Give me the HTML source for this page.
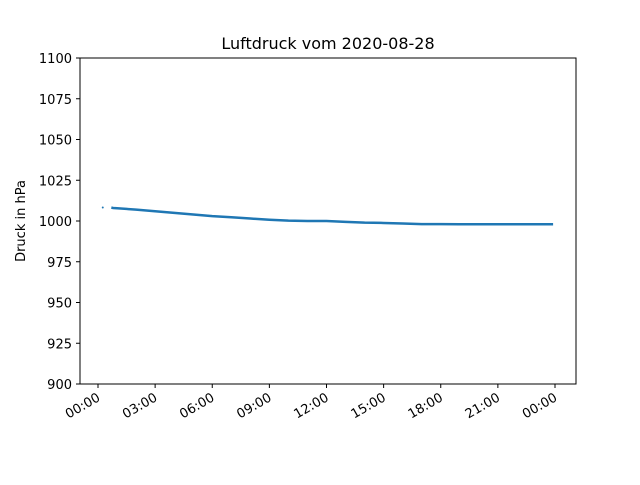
<!DOCTYPE html>
<html><head><meta charset="utf-8"><style>
body{margin:0;background:#fff;font-family:"Liberation Sans","DejaVu Sans",sans-serif}
svg text{font-family:"DejaVu Sans","Liberation Sans",sans-serif;font-size:13px;fill:#000}
</style></head><body>
<svg id="chart" width="640" height="480">
<rect width="640" height="480" fill="#fff"/>
<text x="328" y="49" text-anchor="middle" style="font-size:16px">Luftdruck vom 2020-08-28</text>
<g id="plot"></g>
<rect x="80" y="58" width="496" height="326" fill="none" stroke="#000" stroke-width="1"/>
<text transform="translate(25,221) rotate(-90)" text-anchor="middle">Druck in hPa</text>
</svg>
<script>
const hours=[0.25,0.7,0.8,1,2,3,4,5,6,7,8,9,10,11,12,13,14,15,16,17,18,19,20,21,22,23,23.9];
const pressure=[1008.3,1008.2,1008,1007.8,1007,1006,1005,1004,1003,1002.3,1001.5,1000.8,1000.2,1000,1000,999.5,999,998.8,998.5,998.1,998.1,998,998,998,998,998,998];
const yTicks=[900,925,950,975,1000,1025,1050,1075,1100];
const xTickLabels=["00:00","03:00","06:00","09:00","12:00","15:00","18:00","21:00","00:00"];
const NS="http://www.w3.org/2000/svg";
const X=h=>98+h*(457/24), Y=v=>384-(v-900)*(326/200);
const svg=document.getElementById('chart'), g=document.getElementById('plot');
function mk(t,a){const e=document.createElementNS(NS,t);for(const k in a)e.setAttribute(k,a[k]);return e;}
yTicks.forEach(v=>{
 const l=mk('line',{x1:76,x2:80,y1:Y(v),y2:Y(v),stroke:'#000'});
 
 
 svg.appendChild(l);
 const t=mk('text',{x:72,y:Y(v)+5,'text-anchor':'end'});t.textContent=v;
 
 
 svg.appendChild(t);
});
xTickLabels.forEach((s,i)=>{
 const x=X(i*3);
 const l=mk('line',{x1:x,x2:x,y1:384,y2:388,stroke:'#000'});
 
 
 svg.appendChild(l);
 const t=mk('text',{'text-anchor':'end',transform:`translate(${x+3},${400}) rotate(-30)`});t.textContent=s;
 
 
 svg.appendChild(t);
});
const d0=mk('circle',{cx:X(hours[0]),cy:Y(pressure[0]),r:1,fill:'#1f77b4'});


g.appendChild(d0);
const pts=hours.slice(1).map((h,i)=>X(h)+','+Y(pressure[i+1])).join(' ');
const pl=mk('polyline',{points:pts,fill:'none',stroke:'#1f77b4','stroke-width':2.5});


g.appendChild(pl);
</script>
</body></html>
